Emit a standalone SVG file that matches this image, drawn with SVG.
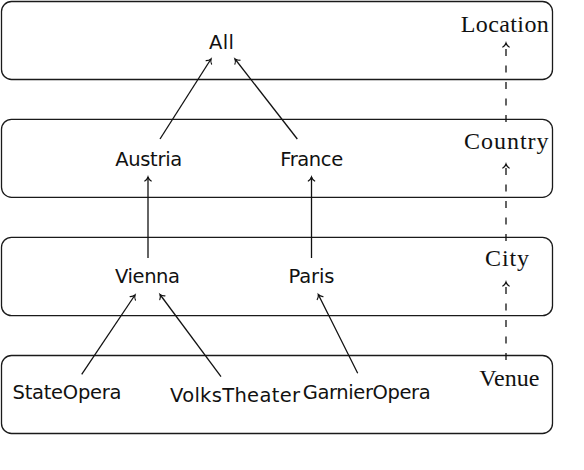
<svg xmlns="http://www.w3.org/2000/svg" width="584" height="470" viewBox="0 0 584 470">
<style>
.layer{fill:none;stroke:#1a1a1a;stroke-width:1.3}
.n{font-family:"DejaVu Sans","Liberation Sans",sans-serif;font-size:19.5px;fill:#111;text-anchor:middle}
.l{font-family:"Liberation Serif","DejaVu Serif",serif;font-size:24px;fill:#111;text-anchor:middle}
.e{stroke:#111;stroke-width:1.3;fill:none;marker-end:url(#to)}
.d{stroke:#111;stroke-width:1.3;fill:none;stroke-dasharray:7 9.5;marker-end:url(#to)}
</style>
<defs>
<marker id="to" markerUnits="userSpaceOnUse" orient="auto" refX="0" refY="0" markerWidth="12" markerHeight="12" viewBox="-6 -6 12 12" overflow="visible">
<path d="M-4,-3.2 C-2.8,-1.3 -1,-0.3 0,0 C-1,0.3 -2.8,1.3 -4,3.2" fill="none" stroke="#111" stroke-width="1.2" stroke-dasharray="none" stroke-linecap="round"/>
</marker>
</defs>
<g id="layers">
<rect id="layer-location" class="layer" x="1.5" y="1.5" width="551" height="78" rx="10"/>
<rect id="layer-country" class="layer" x="1.5" y="119.3" width="551" height="78" rx="10"/>
<rect id="layer-city" class="layer" x="1.5" y="237.3" width="551" height="78.4" rx="10"/>
<rect id="layer-venue" class="layer" x="1.5" y="355.5" width="551" height="78" rx="10"/>
</g>
<g id="connectors">
<line class="e" x1="160" y1="139" x2="211" y2="59"/>
<line class="e" x1="297.3" y1="139" x2="235" y2="59"/>
<line class="e" x1="148" y1="258" x2="148" y2="177"/>
<line class="e" x1="311.5" y1="258" x2="311.5" y2="177"/>
<line class="e" x1="81.7" y1="374.3" x2="135" y2="295"/>
<line class="e" x1="221" y1="376.7" x2="160" y2="294.5"/>
<line class="e" x1="357.7" y1="373.3" x2="318.3" y2="294.5"/>
<line class="d" x1="506" y1="360" x2="506" y2="282"/>
<line class="d" x1="506" y1="241" x2="506" y2="164"/>
<line class="d" x1="506" y1="122" x2="506" y2="43"/>
</g>
<g id="node-all"><text class="n" x="221.5" y="49" textLength="25">All</text></g>
<g id="node-austria"><text class="n" x="148.7" y="165.7" textLength="67">Austria</text></g>
<g id="node-france"><text class="n" x="311.7" y="165.7" textLength="63">France</text></g>
<g id="node-vienna"><text class="n" x="147.5" y="283.3" textLength="65">Vienna</text></g>
<g id="node-paris"><text class="n" x="311.5" y="283.3" textLength="46">Paris</text></g>
<g id="node-stateopera"><text class="n" x="67" y="399.3" textLength="109">StateOpera</text></g>
<g id="node-volkstheater"><text class="n" x="235" y="401.5" textLength="130">VolksTheater</text></g>
<g id="node-garnieropera"><text class="n" x="366.7" y="399.3" textLength="128">GarnierOpera</text></g>
<g id="label-location"><text class="l" x="504.8" y="32.3" textLength="88">Location</text></g>
<g id="label-country"><text class="l" x="506.3" y="149" textLength="84.5">Country</text></g>
<g id="label-city"><text class="l" x="507" y="266" textLength="44">City</text></g>
<g id="label-venue"><text class="l" x="509.3" y="386" textLength="60">Venue</text></g>
</svg>
